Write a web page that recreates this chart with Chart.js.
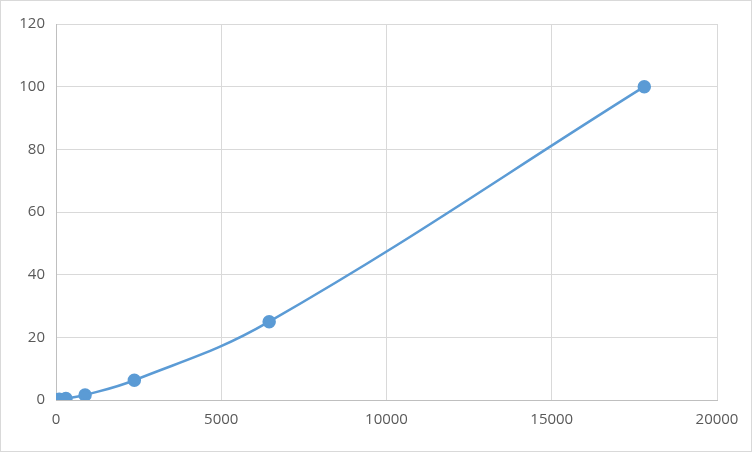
<!DOCTYPE html>
<html>
<head>
<meta charset="utf-8">
<script src="https://cdn.jsdelivr.net/npm/chart.js@4/dist/chart.umd.min.js"></script>
<style>
  html, body { margin: 0; padding: 0; background: #fff; }
  #wrap { position: relative; width: 750px; height: 450px; border: 1px solid #d9d9d9; }
</style>
</head>
<body>
<div id="wrap"><canvas id="c" width="750" height="450"></canvas></div>
<script>
// valores
const xValues = [30, 100, 300, 880, 2370, 6450, 17800];
const yValues = [0.1, 0.2, 0.5, 1.6, 6.3, 25, 100];

const points = xValues.map((x, i) => ({ x: x, y: yValues[i] }));
const tickFont = { family: 'Open Sans', size: 15 };

new Chart(document.getElementById('c'), {
    type: 'scatter',
    data: {
        datasets: [{
            data: points,
            showLine: true,
            tension: 0.4,
            borderColor: '#5b9bd5',
            backgroundColor: '#5b9bd5',
            borderWidth: 2.5,
            pointRadius: 5.5,
            pointHoverRadius: 5.5
        }]
    },
    options: {
        responsive: false,
        animation: false,
        layout: { padding: { top: 23, right: 34, left: 0, bottom: 0 } },
        plugins: { legend: { display: false }, tooltip: { enabled: false } },
        scales: {
            x: {
                type: 'linear',
                min: 0,
                max: 20000,
                ticks: { stepSize: 5000, color: '#595959', font: tickFont, padding: 11, callback: (v) => String(v) },
                grid: { color: '#d9d9d9', drawTicks: false },
                border: { color: '#bfbfbf' },
                afterFit: (s) => { s.height = 51; }
            },
            y: {
                min: 0,
                max: 120,
                ticks: { stepSize: 20, color: '#595959', font: tickFont, padding: 11, callback: (v) => String(v) },
                grid: { color: '#d9d9d9', drawTicks: false },
                border: { color: '#bfbfbf' },
                afterFit: (s) => { s.width = 55; }
            }
        }
    }
});
</script>
</body>
</html>
